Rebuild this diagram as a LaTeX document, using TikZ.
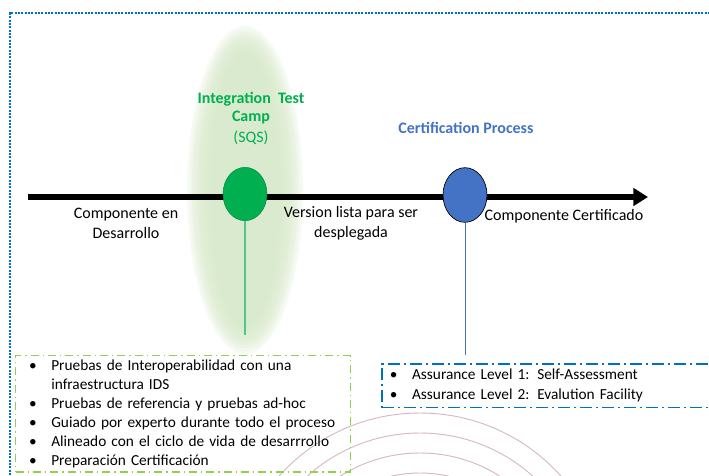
\documentclass[tikz,border=0pt]{standalone}
\usepackage{fontspec}
\setmainfont{Carlito}
\usetikzlibrary{shapes.geometric,arrows.meta}
\definecolor{sqsgreen}{RGB}{0,176,80}
\definecolor{certblue}{RGB}{68,114,196}
\definecolor{frameblue}{RGB}{0,112,192}
\definecolor{boxgreen}{RGB}{146,208,80}
\definecolor{glowgreen}{RGB}{214,232,200}
\definecolor{ringpink}{RGB}{212,184,194}

\begin{document}
\begin{tikzpicture}[x=0.75pt,y=-0.75pt,font=\fontsize{12}{15}\selectfont]
\useasboundingbox (0,0) rectangle (709,475);
\tikzstyle{hito}=[ellipse,minimum width=33pt,minimum height=40pt,inner sep=0pt];
\tikzstyle{etiqueta}=[align=center,inner sep=0pt];
\tikzstyle{lista}=[anchor=north west,align=left,font=\fontsize{11.5}{14.3}\selectfont];
% anillos del fondo
\begin{scope}
\clip (0,0) rectangle (709,475);
\foreach \r in {189,169,149,129}
  \draw[ringpink,line width=0.7pt] (420,602) circle[radius=\r];
\end{scope}
% halo verde
\foreach \i in {0,...,9}
  \fill[glowgreen,opacity=0.2] (245,190) ellipse[x radius=58-2.5*\i, y radius=164-3*\i];
% marco punteado
\draw[frameblue,line width=1.6pt,dash pattern=on 1.6pt off 0.9pt] (10,475) -- (10,13) -- (709,13);
% linea de tiempo
\coordinate (inicio) at (28,197);
\coordinate (fin) at (648,197);
\draw[line width=4.5pt,-{Triangle[length=11pt,width=13pt]}] (inicio) -- (fin);
\node[hito,fill=sqsgreen,draw=sqsgreen!80!black,line width=0.4pt] (camp) at (245,194) {};
\node[hito,fill=certblue,draw=black,line width=0.5pt,minimum height=41pt] (cert) at (465,195) {};
\node[etiqueta,text=sqsgreen,font=\fontsize{12}{14}\selectfont\bfseries] (camptit) at (251,108) {Integration\ \ Test\\Camp};
\node[etiqueta,text=sqsgreen] (sqs) at (251,138) {(SQS)};
\node[etiqueta,text=certblue,font=\fontsize{12}{14}\selectfont\bfseries] (certtit) at (466,128) {Certification Process};
\node[etiqueta] (desarrollo) at (126,223) {Componente en\\Desarrollo};
\node[etiqueta] (lista) at (351,223) {Version lista para ser\\desplegada};
\node[etiqueta] (certificado) at (564,216) {Componente Certificado};
% cajas de detalle
\coordinate (campfin) at (245,335);
\coordinate (certfin) at (465,355);
\draw[sqsgreen!70,line width=0.8pt] (camp.south) -- (campfin);
\draw[certblue,line width=0.6pt] (cert.south) -- (certfin);
\node[lista,draw=boxgreen,line width=1pt,dash pattern=on 6pt off 3pt on 1pt off 3pt,
  inner xsep=10pt,inner ysep=3pt,text width=231pt] (campbox) at (15,355)
  {\textbullet\hspace{11pt}Pruebas de Interoperabilidad con una\\
   \phantom{\textbullet}\hspace{11pt}infraestructura IDS\\
   \textbullet\hspace{11pt}Pruebas de referencia y pruebas ad-hoc\\
   \textbullet\hspace{11pt}Guiado por experto durante todo el proceso\\
   \textbullet\hspace{11pt}Alineado con el ciclo de vida de desarrrollo\\
   \textbullet\hspace{11pt}Preparación Certificación\\[4pt]};
\node[lista,draw=frameblue,line width=1.2pt,dash pattern=on 9pt off 3pt on 1.5pt off 3pt,
  inner xsep=6pt,inner ysep=4pt,text width=300pt,font=\fontsize{11.5}{15}\selectfont] (certbox) at (381,363)
  {\textbullet\hspace{11pt}Assurance Level 1: Self-Assessment\\
   \textbullet\hspace{11pt}Assurance Level 2: Evalution Facility\\[3pt]};
\end{tikzpicture}
\end{document}
